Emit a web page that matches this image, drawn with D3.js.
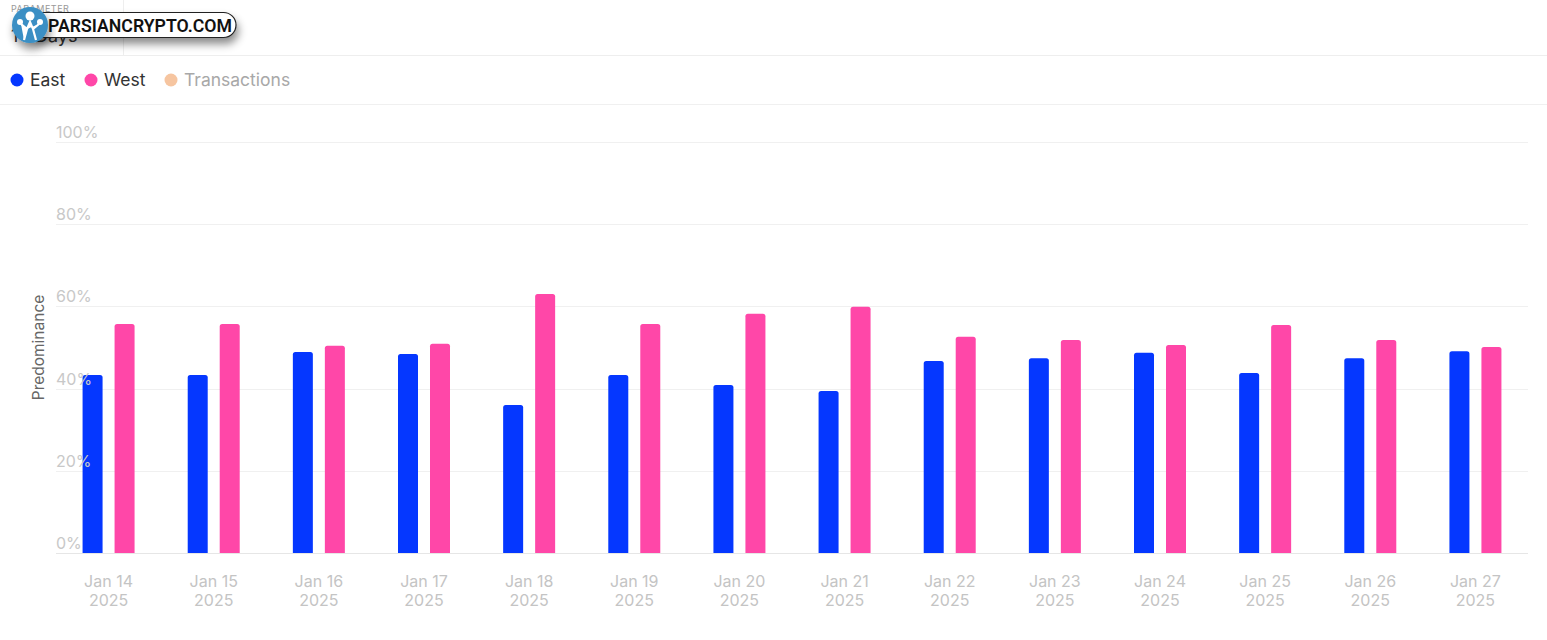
<!DOCTYPE html>
<html>
<head>
<meta charset="utf-8">
<script src="https://cdn.jsdelivr.net/npm/d3@7"></script>
<style>
  html, body { margin: 0; padding: 0; background: #fff; }
  svg { display: block; font-family: Inter, "Noto Sans", sans-serif; }
</style>
</head>
<body>
<svg id="chart" width="1547" height="640"></svg>
<script>
// ---- data ----
const categories = ["Jan 14","Jan 15","Jan 16","Jan 17","Jan 18","Jan 19","Jan 20","Jan 21","Jan 22","Jan 23","Jan 24","Jan 25","Jan 26","Jan 27"];
const yearLabel = "2025";
const eastValues = [43.3, 43.3, 48.9, 48.4, 36.0, 43.3, 40.9, 39.4, 46.7, 47.4, 48.7, 43.8, 47.4, 49.1];
const westValues = [55.7, 55.7, 50.4, 50.9, 63.0, 55.7, 58.2, 59.9, 52.6, 51.8, 50.6, 55.5, 51.8, 50.1];
const yTicks = [0, 20, 40, 60, 80, 100];
const seriesNames = ["East", "West", "Transactions"];
const seriesColors = ["#0537FF", "#FF47A8", "#F6C5A0"];

const svg = d3.select("#chart");

// ---- header ----
svg.append("line").attr("x1", 123.5).attr("x2", 123.5).attr("y1", 0).attr("y2", 55).attr("stroke", "#eeeeee");
svg.append("line").attr("x1", 0).attr("x2", 1547).attr("y1", 55.5).attr("y2", 55.5).attr("stroke", "#eeeeee");
svg.append("line").attr("x1", 0).attr("x2", 1547).attr("y1", 104.5).attr("y2", 104.5).attr("stroke", "#f0f0f0");
svg.append("text").attr("x", 11).attr("y", 12).attr("font-size", 9).attr("fill", "#999").attr("letter-spacing", 0.5).text("PARAMETER");
svg.append("text").attr("x", 11).attr("y", 42).attr("font-size", 18).attr("fill", "#333").text("14 Days");

// ---- legend ----
const legendX = [17, 91, 171];
const legend = svg.append("g");
seriesNames.forEach((name, i) => {
  legend.append("circle").attr("cx", legendX[i]).attr("cy", 80).attr("r", 6.5).attr("fill", seriesColors[i]);
  legend.append("text").attr("x", legendX[i] + 13).attr("y", 86).attr("font-size", 17.5)
    .attr("fill", i === 2 ? "#a8a8a8" : "#333").text(name);
});

// ---- scales ----
const x = d3.scaleBand().domain(categories).range([56, 1528]).padding(0);
const y = d3.scaleLinear().domain([0, 100]).range([553, 142]);

// gridlines
svg.append("g").selectAll("line").data(yTicks).join("line")
  .attr("x1", 56).attr("x2", 1528)
  .attr("y1", d => Math.round(y(d)) + 0.5).attr("y2", d => Math.round(y(d)) + 0.5)
  .attr("stroke", d => d === 0 ? "#e6e6e6" : "#f0f0f0");

// y axis title
svg.append("text")
  .attr("transform", `translate(44, ${(y(0) + y(100)) / 2}) rotate(-90)`)
  .attr("text-anchor", "middle").attr("font-size", 15.5).attr("fill", "#666").text("Predominance");

// bars
const barW = 20, gap = 6, r = 2.5;
function barPath(x0, y0, w, h) {
  const rr = Math.min(r, h);
  return `M${x0},${y0 + h}V${y0 + rr}Q${x0},${y0} ${x0 + rr},${y0}H${x0 + w - rr}Q${x0 + w},${y0} ${x0 + w},${y0 + rr}V${y0 + h}Z`;
}
const bars = svg.append("g");
bars.selectAll("path.east").data(categories).join("path").attr("class", "east")
  .attr("fill", seriesColors[0])
  .attr("d", (c, i) => {
    const cx = x(c) + x.bandwidth() / 2;
    return barPath(cx - gap - barW, y(eastValues[i]), barW, y(0) - y(eastValues[i]));
  });
bars.selectAll("path.west").data(categories).join("path").attr("class", "west")
  .attr("fill", seriesColors[1])
  .attr("d", (c, i) => {
    const cx = x(c) + x.bandwidth() / 2;
    return barPath(cx + gap, y(westValues[i]), barW, y(0) - y(westValues[i]));
  });

// y tick labels (drawn over bars)
svg.append("g").selectAll("text").data(yTicks).join("text")
  .attr("x", 56).attr("y", d => y(d) - 4)
  .attr("font-size", 16).attr("fill", "#c8c8c8").text(d => d + "%");

// x axis labels
const xAxis = d3.axisBottom(x).tickSize(0).tickFormat(d => d);
const xg = svg.append("g").attr("transform", `translate(0, ${y(0)})`).call(xAxis);
xg.select(".domain").remove();
xg.selectAll(".tick text").remove();
xg.selectAll(".tick").each(function(d) {
  const t = d3.select(this).append("text").attr("text-anchor", "middle")
    .attr("font-size", 16).attr("fill", "#c4c4c4").attr("font-family", "Inter, sans-serif");
  t.append("tspan").attr("x", 0).attr("y", 34).text(d);
  t.append("tspan").attr("x", 0).attr("y", 53).text(yearLabel);
});

// ---- watermark ----
const wm = svg.append("g");
const defs = svg.append("defs");
const f = defs.append("filter").attr("id", "sh").attr("x", "-20%").attr("y", "-50%").attr("width", "140%").attr("height", "220%");
f.append("feDropShadow").attr("dx", 2).attr("dy", 6).attr("stdDeviation", 4).attr("flood-color", "#000").attr("flood-opacity", 0.45);
wm.append("rect").attr("x", 30).attr("y", 12.5).attr("width", 206).attr("height", 25).attr("rx", 12.5)
  .attr("fill", "#fff").attr("stroke", "#222").attr("stroke-width", 1.2).attr("filter", "url(#sh)");
wm.append("text").attr("x", 48).attr("y", 31.5).attr("font-size", 19).attr("font-weight", 600)
  .attr("textLength", 184).attr("lengthAdjust", "spacingAndGlyphs")
  .attr("fill", "#111").attr("font-family", "Roboto, Arial, sans-serif").text("PARSIANCRYPTO.COM");
wm.append("circle").attr("cx", 30).attr("cy", 25).attr("r", 18).attr("fill", "#3a8fc4").attr("filter", "url(#sh)");
wm.append("path").attr("d", "M24,40 L27,29 L21,24 M27,29 L30,22 L33,29 L39,24 M33,29 L36,40 Z").attr("fill", "#fff").attr("stroke", "#fff").attr("stroke-width", 2.2);
wm.append("circle").attr("cx", 30).attr("cy", 16).attr("r", 4.5).attr("fill", "#fff");
wm.append("circle").attr("cx", 20).attr("cy", 22).attr("r", 3).attr("fill", "#fff");
wm.append("circle").attr("cx", 40).attr("cy", 22).attr("r", 3).attr("fill", "#fff");
</script>
</body>
</html>
